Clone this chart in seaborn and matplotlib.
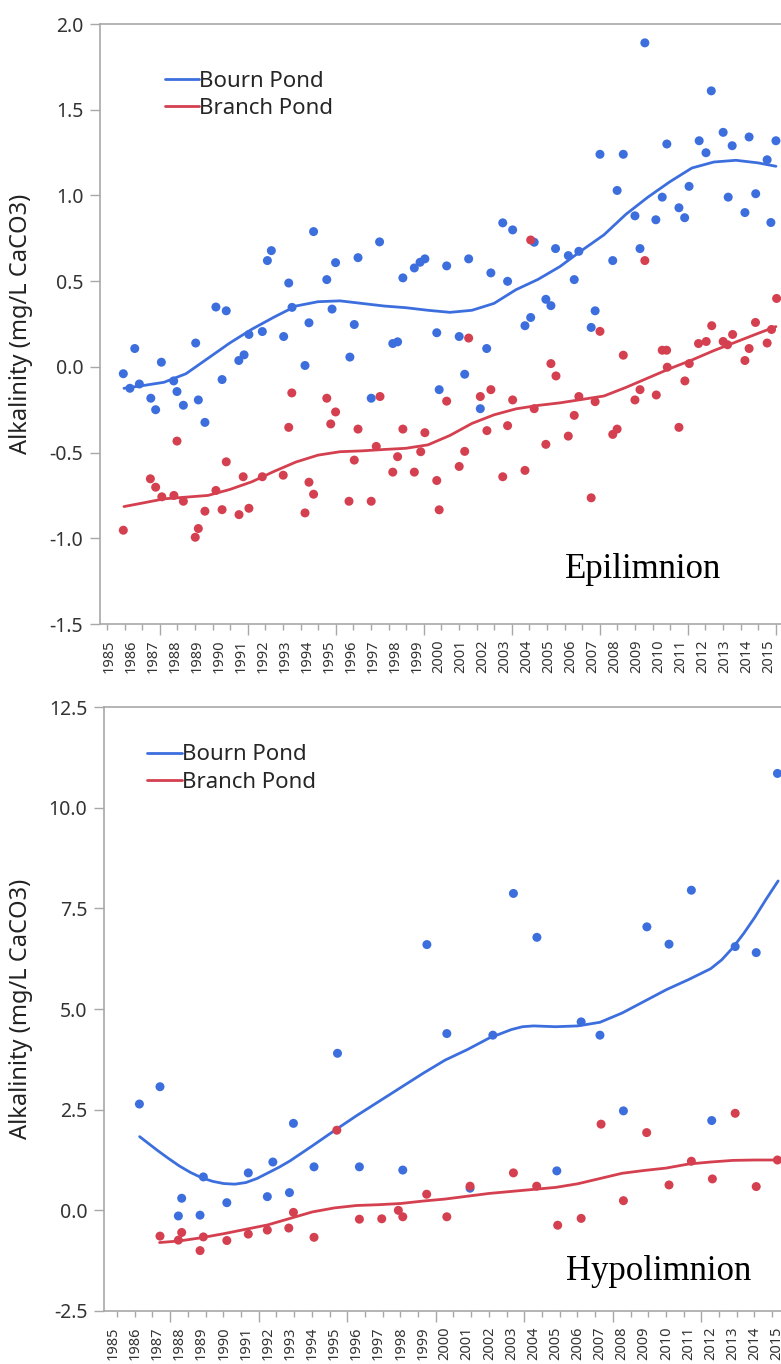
import matplotlib
matplotlib.use("Agg")
import matplotlib.pyplot as plt
import numpy as np
import pandas as pd
import seaborn as sns
from matplotlib.ticker import MultipleLocator, FormatStrFormatter

# ---------------- Epilimnion samples ----------------
epi_bourn_year = [1985.65, 1985.95, 1986.17, 1986.38, 1986.90, 1987.12, 1987.38, 1987.94, 1988.09, 1988.38,
                  1988.94, 1989.06, 1989.36, 1989.86, 1990.14, 1990.33, 1990.90, 1991.14, 1991.36, 1991.97,
                  1992.20, 1992.38, 1992.94, 1993.17, 1993.32, 1993.91, 1994.09, 1994.30, 1994.90, 1995.14,
                  1995.30, 1995.95, 1996.15, 1996.32, 1996.92, 1997.30, 1997.90, 1998.12, 1998.36, 1998.88,
                  1999.14, 1999.36, 1999.90, 2000.01, 2000.35, 2000.92, 2001.17, 2001.35, 2001.88, 2002.17,
                  2002.36, 2002.90, 2003.12, 2003.35, 2003.91, 2004.17, 2004.33, 2004.86, 2005.09, 2005.30,
                  2005.88, 2006.15, 2006.36, 2006.92, 2007.10, 2007.32, 2007.90, 2008.10, 2008.38, 2008.91,
                  2009.14, 2009.36, 2009.86, 2010.15, 2010.36, 2010.91, 2011.17, 2011.37, 2011.83, 2012.14,
                  2012.38, 2012.92, 2013.15, 2013.33, 2013.91, 2014.10, 2014.40, 2014.92, 2015.09, 2015.32]
epi_bourn_alk = [-0.040, -0.125, 0.107, -0.100, -0.183, -0.250, 0.027, -0.082, -0.144, -0.224,
                 0.139, -0.193, -0.324, 0.349, -0.074, 0.327, 0.037, 0.070, 0.189, 0.206,
                 0.620, 0.678, 0.177, 0.489, 0.347, 0.008, 0.257, 0.789, 0.509, 0.337,
                 0.608, 0.057, 0.247, 0.637, -0.183, 0.729, 0.136, 0.146, 0.519, 0.577,
                 0.610, 0.630, 0.199, -0.133, 0.589, 0.177, -0.043, 0.630, -0.244, 0.107,
                 0.548, 0.840, 0.499, 0.799, 0.240, 0.288, 0.727, 0.394, 0.357, 0.690,
                 0.649, 0.509, 0.674, 0.230, 0.327, 1.240, 0.620, 1.029, 1.240, 0.881,
                 0.690, 1.890, 0.858, 0.990, 1.300, 0.928, 0.870, 1.053, 1.319, 1.249,
                 1.610, 1.368, 0.990, 1.290, 0.900, 1.341, 1.010, 1.208, 0.842, 1.319]

epi_branch_year = [1985.65, 1986.88, 1987.12, 1987.40, 1987.95, 1988.09, 1988.38, 1988.92, 1989.06, 1989.36,
                   1989.86, 1990.14, 1990.33, 1990.91, 1991.10, 1991.36, 1991.97, 1992.92, 1993.17, 1993.31,
                   1993.91, 1994.09, 1994.30, 1994.90, 1995.08, 1995.30, 1995.91, 1996.15, 1996.32, 1996.92,
                   1997.15, 1997.32, 1997.90, 1998.12, 1998.36, 1998.88, 1999.17, 1999.36, 1999.90, 2000.01,
                   2000.35, 2000.92, 2001.17, 2001.35, 2001.88, 2002.18, 2002.36, 2002.90, 2003.12, 2003.35,
                   2003.91, 2004.17, 2004.33, 2004.86, 2005.09, 2005.32, 2005.88, 2006.15, 2006.36, 2006.92,
                   2007.10, 2007.32, 2007.90, 2008.10, 2008.38, 2008.91, 2009.14, 2009.36, 2009.88, 2010.15,
                   2010.35, 2010.38, 2010.91, 2011.18, 2011.38, 2011.80, 2012.15, 2012.40, 2012.92, 2013.12,
                   2013.35, 2013.91, 2014.10, 2014.39, 2014.92, 2015.12, 2015.35]
epi_branch_alk = [-0.953, -0.653, -0.702, -0.758, -0.750, -0.433, -0.784, -0.994, -0.943, -0.842,
                  -0.721, -0.833, -0.554, -0.862, -0.641, -0.825, -0.641, -0.632, -0.353, -0.152,
                  -0.852, -0.673, -0.743, -0.183, -0.333, -0.263, -0.784, -0.544, -0.363, -0.784,
                  -0.464, -0.173, -0.614, -0.524, -0.363, -0.614, -0.495, -0.384, -0.663, -0.834,
                  -0.200, -0.581, -0.493, 0.168, -0.173, -0.372, -0.133, -0.641, -0.343, -0.193,
                  -0.604, 0.740, -0.244, -0.452, 0.019, -0.053, -0.404, -0.283, -0.173, -0.764,
                  -0.203, 0.207, -0.394, -0.363, 0.068, -0.193, -0.133, 0.620, -0.164, 0.097,
                  0.097, -0.002, -0.353, -0.082, 0.019, 0.136, 0.148, 0.240, 0.148, 0.129,
                  0.189, 0.037, 0.107, 0.259, 0.139, 0.218, 0.399]

# smoothed trend
epi_bourn_trend_year = [1985.68, 1986.5, 1987.5, 1988.5, 1989.5, 1990.5, 1991.5, 1992.5, 1993.5, 1994.5,
                        1995.5, 1996.5, 1997.5, 1998.5, 1999.5, 2000.5, 2001.5, 2002.5, 2003.5, 2004.5,
                        2005.5, 2006.5, 2007.5, 2008.5, 2009.5, 2010.5, 2011.5, 2012.5, 2013.5, 2014.5, 2015.32]
epi_bourn_trend = [-0.125, -0.11, -0.09, -0.04, 0.05, 0.14, 0.22, 0.29, 0.355, 0.38,
                   0.385, 0.37, 0.355, 0.345, 0.33, 0.318, 0.33, 0.37, 0.45, 0.51,
                   0.585, 0.68, 0.77, 0.89, 0.99, 1.08, 1.16, 1.195, 1.205, 1.19, 1.17]
epi_branch_trend_year = epi_bourn_trend_year
epi_branch_trend = [-0.815, -0.795, -0.77, -0.76, -0.75, -0.715, -0.67, -0.61, -0.555, -0.515,
                    -0.495, -0.49, -0.482, -0.475, -0.455, -0.40, -0.33, -0.28, -0.245, -0.225,
                    -0.21, -0.19, -0.17, -0.12, -0.065, -0.01, 0.04, 0.095, 0.145, 0.195, 0.235]

# ---------------- Hypolimnion samples ----------------
hypo_bourn_year = [1986.19, 1987.12, 1987.95, 1988.10, 1988.93, 1989.08, 1990.14, 1991.11, 1991.97, 1992.22,
                   1992.97, 1993.15, 1994.08, 1995.14, 1996.13, 1998.09, 1999.18, 2000.08, 2001.13, 2002.16,
                   2003.09, 2004.15, 2005.05, 2006.15, 2007.00, 2008.06, 2009.12, 2010.12, 2011.13, 2012.05,
                   2013.11, 2014.06, 2015.02]
hypo_bourn_alk = [2.64, 3.07, -0.14, 0.30, -0.12, 0.83, 0.19, 0.93, 0.34, 1.20,
                  0.44, 2.16, 1.08, 3.90, 1.08, 1.00, 6.60, 4.39, 0.55, 4.35,
                  7.87, 6.78, 0.98, 4.68, 4.35, 2.47, 7.04, 6.61, 7.95, 2.23,
                  6.55, 6.40, 10.85]

hypo_branch_year = [1987.12, 1987.95, 1988.10, 1988.93, 1989.08, 1990.14, 1991.11, 1991.97, 1992.94, 1993.15,
                    1994.08, 1995.11, 1996.13, 1997.14, 1997.89, 1998.09, 1999.17, 2000.08, 2001.13, 2003.09,
                    2004.14, 2005.09, 2006.15, 2007.05, 2008.06, 2009.11, 2010.12, 2011.13, 2012.08, 2013.11,
                    2014.06, 2015.02]
hypo_branch_alk = [-0.64, -0.74, -0.55, -1.00, -0.66, -0.75, -0.59, -0.49, -0.44, -0.05,
                   -0.67, 1.99, -0.22, -0.21, 0.00, -0.16, 0.40, -0.16, 0.60, 0.93,
                   0.60, -0.37, -0.20, 2.14, 0.24, 1.93, 0.63, 1.22, 0.78, 2.41,
                   0.59, 1.25]

hypo_bourn_trend_year = [1986.2, 1986.6, 1987.0, 1987.5, 1988.0, 1988.5, 1989.0, 1989.5, 1990.0, 1990.5,
                         1991.0, 1991.5, 1992.0, 1992.5, 1993.0, 1994.0, 1995.0, 1996.0, 1997.0, 1998.0,
                         1999.0, 2000.0, 2001.0, 2002.0, 2003.0, 2003.5, 2004.0, 2005.0, 2006.0, 2007.0,
                         2008.0, 2009.0, 2010.0, 2011.0, 2012.0, 2012.5, 2013.0, 2013.5, 2014.0, 2014.5, 2015.05]
hypo_bourn_trend = [1.83, 1.66, 1.49, 1.29, 1.10, 0.94, 0.81, 0.72, 0.665, 0.65,
                    0.69, 0.79, 0.93, 1.07, 1.23, 1.60, 1.98, 2.35, 2.70, 3.05,
                    3.40, 3.73, 3.99, 4.28, 4.49, 4.56, 4.58, 4.56, 4.58, 4.67,
                    4.90, 5.19, 5.48, 5.73, 6.00, 6.22, 6.52, 6.88, 7.28, 7.72, 8.18]
hypo_branch_trend_year = [1987.1, 1988.0, 1989.0, 1990.0, 1991.0, 1992.0, 1993.0, 1994.0, 1995.0, 1996.0,
                          1997.0, 1998.0, 1999.0, 2000.0, 2001.0, 2002.0, 2003.0, 2004.0, 2005.0, 2006.0,
                          2007.0, 2008.0, 2009.0, 2010.0, 2011.0, 2012.0, 2013.0, 2014.0, 2015.0]
hypo_branch_trend = [-0.80, -0.76, -0.68, -0.58, -0.47, -0.36, -0.20, -0.04, 0.06, 0.12,
                     0.14, 0.17, 0.23, 0.28, 0.35, 0.42, 0.47, 0.52, 0.57, 0.66,
                     0.79, 0.92, 0.99, 1.05, 1.15, 1.20, 1.24, 1.25, 1.25]

ponds = ["Bourn Pond", "Branch Pond"]
year_labels = [str(y) for y in range(1985, 2016)]

# ---------------- style ----------------
sns.set_theme(style="white")
plt.rcParams["font.family"] = ["Noto Sans", "DejaVu Sans"]
plt.rcParams["axes.unicode_minus"] = False

BLUE = "#3c6fdd"
RED = "#d4404f"
palette = {ponds[0]: BLUE, ponds[1]: RED}
SPINE = "#a8a8a8"
TEXT = "#333333"


def long_frame(y1, v1, y2, v2):
    return pd.DataFrame({
        "Year": list(y1) + list(y2),
        "Alkalinity": list(v1) + list(v2),
        "Pond": [ponds[0]] * len(y1) + [ponds[1]] * len(y2),
    })


def draw_panel(ax, pts, trend, xlim, ylim, ystep, label, label_y, major_off, minor_off,
               leg_anchor, label_x):
    sns.lineplot(data=trend, x="Year", y="Alkalinity", hue="Pond", palette=palette,
                 estimator=None, sort=True, linewidth=2.0, ax=ax, zorder=2)
    sns.scatterplot(data=pts, x="Year", y="Alkalinity", hue="Pond", palette=palette,
                    s=42, linewidth=0, edgecolor="none", legend=False, ax=ax, zorder=3)

    ax.set_xlim(*xlim)
    ax.set_ylim(*ylim)
    ax.set_xlabel("")
    ax.set_ylabel("Alkalinity (mg/L CaCO3)", fontsize=17, color="#222222")
    ax.yaxis.set_label_coords(label_x, 0.5)

    ax.yaxis.set_major_locator(MultipleLocator(ystep))
    ax.yaxis.set_major_formatter(FormatStrFormatter("%.1f"))
    ax.tick_params(axis="y", which="major", left=True, length=7, width=1, color=SPINE,
                   labelsize=14, labelcolor=TEXT, pad=5)

    ax.set_xticks([int(y) for y in year_labels])
    ax.set_xticklabels(year_labels, rotation=90)
    ax.tick_params(axis="x", which="major", bottom=True, length=0, labelsize=10.5,
                   labelcolor=TEXT, pad=11.5)

    # bottom tick marks of the date axis
    sec = ax.secondary_xaxis("bottom")
    sec.xaxis.set_major_locator(MultipleLocator(4.0, offset=major_off))
    sec.xaxis.set_minor_locator(MultipleLocator(0.8, offset=minor_off))
    sec.tick_params(which="major", length=8, width=1, color=SPINE, labelbottom=False)
    sec.tick_params(which="minor", length=4, width=1, color=SPINE)
    sec.spines["bottom"].set_visible(False)

    for side in ["left", "bottom", "top"]:
        ax.spines[side].set_visible(True)
        ax.spines[side].set_color(SPINE)
        ax.spines[side].set_linewidth(1.2)
    ax.spines["right"].set_visible(False)

    handles, labels = ax.get_legend_handles_labels()
    ax.legend(handles, labels, loc="upper left", bbox_to_anchor=leg_anchor, frameon=False,
              fontsize=16, handlelength=1.55, handletextpad=0.0, borderpad=0,
              borderaxespad=0, labelspacing=0.28)

    ax.text(0.683, label_y, label, transform=ax.transAxes,
            fontsize=25, family="Liberation Serif", color="black", ha="left", va="center")


W, H = 781, 1364
fig = plt.figure(figsize=(W / 100, H / 100), dpi=100)
ax_top = fig.add_axes([100 / W, 1 - 624 / H, 681 / W, 600 / H])
ax_bot = fig.add_axes([104 / W, 1 - 1311 / H, 677 / W, 604 / H])

draw_panel(ax_top,
           long_frame(epi_bourn_year, epi_bourn_alk, epi_branch_year, epi_branch_alk),
           long_frame(epi_bourn_trend_year, epi_bourn_trend, epi_branch_trend_year, epi_branch_trend),
           (1984.59, 2015.55), (-1.5, 2.0), 0.5, "Epilimnion", 0.09, 3.31, 0.11,
           (0.095, 0.922), -0.098)
draw_panel(ax_bot,
           long_frame(hypo_bourn_year, hypo_bourn_alk, hypo_branch_year, hypo_branch_alk),
           long_frame(hypo_bourn_trend_year, hypo_bourn_trend, hypo_branch_trend_year, hypo_branch_trend),
           (1984.59, 2015.18), (-2.5, 12.5), 2.5, "Hypolimnion", 0.065, 3.58, 0.38,
           (0.064, 0.938), -0.105)

fig.savefig("out.png", dpi=100)
